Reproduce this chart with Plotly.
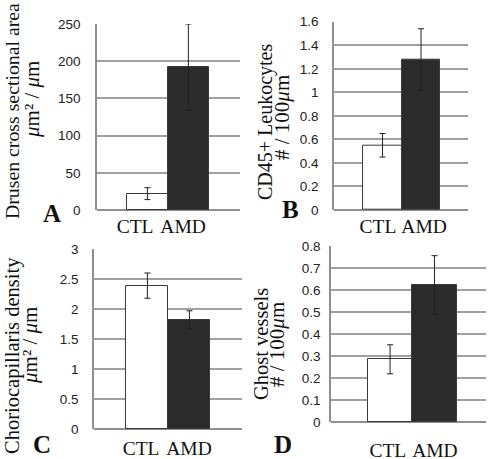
import plotly.graph_objects as go

W, H = 492, 459

groups = ["CTL", "AMD"]

# Panel values (mean, error)
drusen_mean = [22, 192]
drusen_err = [8, 58]

cd45_mean = [0.55, 1.28]
cd45_err = [0.10, 0.26]

chorio_mean = [2.39, 1.82]
chorio_err = [0.21, 0.15]

ghost_mean = [0.285, 0.623]
ghost_err = [0.066, 0.133]

panels = [
    dict(mean=drusen_mean, err=drusen_err, yr=[0, 250], dt=50,
         px=(97, 240), py=(24, 210), xr=[-1.23, 2.26], lab=[-0.3, 0.87],
         t1="Drusen cross sectional area", t2="<i>μ</i>m² / <i>μ</i>m", fs1=19.8, fs2=21,
         t1x=12, t2x=32, ty1=111, ty2=100, letter="A", lx=52, ly=213, standoff=2, tls=12),
    dict(mean=cd45_mean, err=cd45_err, yr=[0, 1.6], dt=0.2,
         px=(334, 468), py=(21.7, 210), xr=[-1.26, 2.22], lab=[-0.12, 1.08],
         t1="CD45+ Leukocytes", t2="# / 100<i>μ</i>m", fs1=20, fs2=21,
         t1x=265, t2x=282, ty1=122, ty2=118, letter="B", lx=290, ly=209, standoff=2, tls=11),
    dict(mean=chorio_mean, err=chorio_err, yr=[0, 3], dt=0.5,
         px=(94, 242), py=(249, 429), xr=[-1.27, 2.25], lab=[-0.15, 0.99],
         t1="Choriocapillaris density", t2="<i>μ</i>m² / <i>μ</i>m", fs1=20.5, fs2=21,
         t1x=12, t2x=30, ty1=356, ty2=346, letter="C", lx=42, ly=444, standoff=5, tls=11),
    dict(mean=ghost_mean, err=ghost_err, yr=[0, 0.8], dt=0.1,
         px=(331, 486), py=(246, 422), xr=[-1.33, 2.16], lab=[-0.05, 1.01],
         t1="Ghost vessels", t2="# / 100<i>μ</i>m", fs1=20.5, fs2=21,
         t1x=261, t2x=277, ty1=344, ty2=345, letter="D", lx=283, ly=444, standoff=14, tls=6),
]

fig = go.Figure()
annotations = []
serif = "Liberation Serif"
sans = "Liberation Sans"

for i, p in enumerate(panels, start=1):
    xa = "x" if i == 1 else f"x{i}"
    ya = "y" if i == 1 else f"y{i}"
    fig.add_trace(go.Bar(
        x=[0, 1], y=p["mean"], width=1,
        marker=dict(color=["white", "#2b2b2b"], line=dict(color="#3a3a3a", width=1)),
        error_y=dict(type="data", array=p["err"], visible=True, color="#222222",
                     thickness=1, width=3),
        xaxis=xa, yaxis=ya, showlegend=False,
    ))
    x0, x1 = p["px"]
    ytop, ybot = p["py"]
    xd = [x0 / W, x1 / W]
    yd = [(H - ybot) / H, (H - ytop) / H]
    key = "" if i == 1 else str(i)
    fig.update_layout(**{
        f"xaxis{key}": dict(domain=xd, range=p["xr"], tickvals=p["lab"], ticktext=groups,
                            showgrid=False, zeroline=False, showline=False, ticks="",
                            tickangle=0, automargin=False,
                            tickfont=dict(family=serif, size=19.5, color="#111"),
                            ticklabelstandoff=p["standoff"], anchor=ya, fixedrange=True),
        f"yaxis{key}": dict(domain=yd, range=p["yr"], dtick=p["dt"], tick0=0,
                            showgrid=True, gridcolor="#a0a0a0", gridwidth=1.5,
                            zeroline=True, zerolinecolor="#909090", zerolinewidth=1.5,
                            showline=True, linecolor="#909090", linewidth=1.5,
                            ticks="", automargin=False,
                            tickfont=dict(family=sans, size=13.5, color="#222"),
                            ticklabelstandoff=p["tls"], anchor=xa, fixedrange=True),
    })
    for tx, ty, txt, fs in ((p["t1x"], p["ty1"], p["t1"], p["fs1"]),
                            (p["t2x"], p["ty2"], p["t2"], p["fs2"])):
        annotations.append(dict(
            xref="paper", yref="paper", x=tx / W, y=(H - ty) / H,
            text=txt, showarrow=False, textangle=-90,
            font=dict(family=serif, size=fs, color="#111"),
            xanchor="center", yanchor="middle"))
    annotations.append(dict(
        xref="paper", yref="paper", x=p["lx"] / W, y=(H - p["ly"]) / H,
        text="<b>" + p["letter"] + "</b>", showarrow=False,
        font=dict(family=serif, size=25, color="#111"),
        xanchor="center", yanchor="middle"))

fig.update_layout(
    width=W, height=H, margin=dict(l=0, r=0, t=0, b=0, autoexpand=False),
    paper_bgcolor="white", plot_bgcolor="white",
    annotations=annotations, bargap=0,
)

fig.write_html(
    "out.html",
    config={"displayModeBar": False},
    post_script="document.body.style.margin='0';document.body.style.overflow='hidden';",
)
